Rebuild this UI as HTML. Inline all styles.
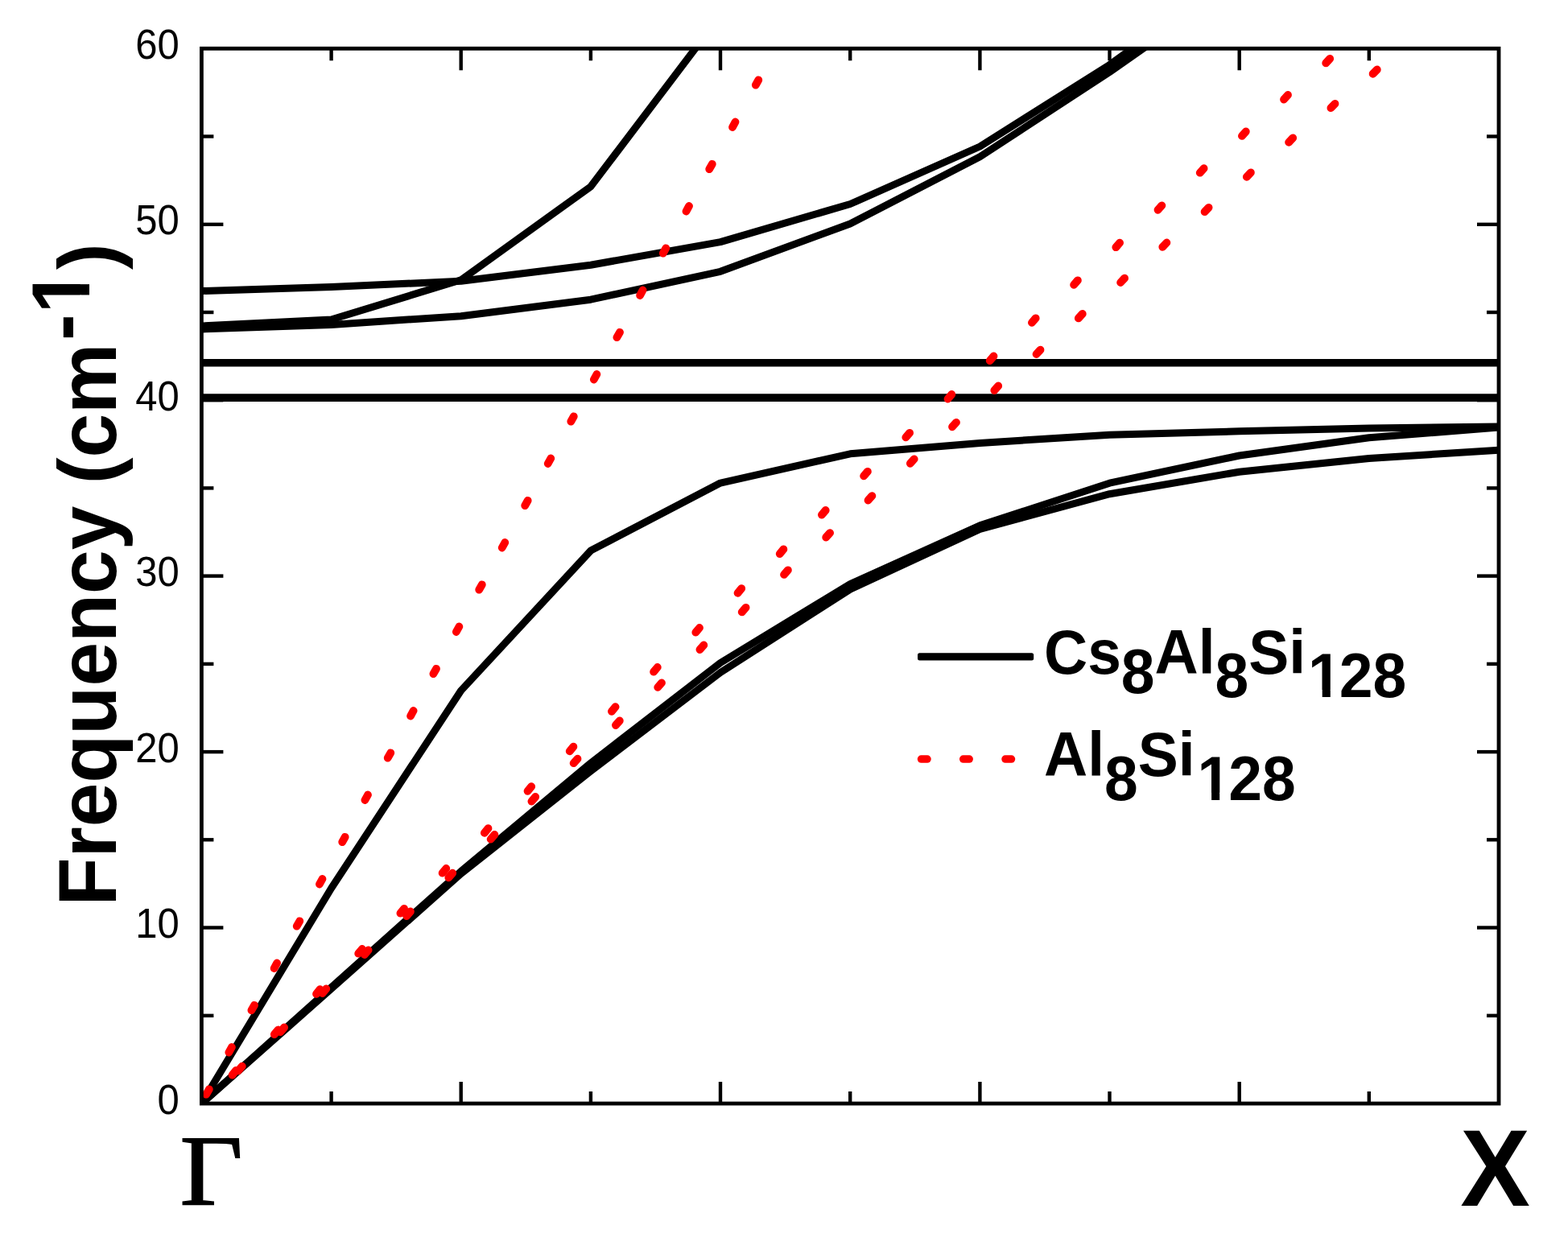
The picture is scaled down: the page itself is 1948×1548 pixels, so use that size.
<!DOCTYPE html>
<html lang="en"><head><meta charset="utf-8"><title>Phonon dispersion</title>
<style>html,body{margin:0;padding:0;background:#fff}body{width:1948px;height:1548px;overflow:hidden}svg{display:block}text{font-family:"Liberation Sans",sans-serif;fill:#000}.b{font-weight:bold}.g{font-family:"Liberation Serif",serif}</style>
</head><body>
<svg width="1948" height="1548" viewBox="0 0 1948 1548">
<rect x="0" y="0" width="1948" height="1548" fill="#fff"/>
<defs><clipPath id="cp"><rect x="250.40" y="60.30" width="1611.60" height="1310.70"/></clipPath></defs>
<g clip-path="url(#cp)" fill="none" stroke="#000" stroke-width="9.00" stroke-linejoin="round" stroke-linecap="butt">
<polyline points="250.4,361.5 411.6,356.6 572.7,349.2 733.9,329.2 895.0,300.6 1056.2,253.5 1217.4,182.0 1378.5,80.5 1539.7,-35.6"/>
<polyline points="250.4,408.9 411.6,403.4 572.7,392.7 733.9,372.2 895.0,337.3 1056.2,278.0 1217.4,194.8 1378.5,89.5 1539.7,-23.3"/>
<polyline points="250.4,405.0 411.6,397.0 572.7,347.8 733.9,231.8 895.0,19.1"/>
<polyline stroke-width="9.6" points="250.4,450.7 411.6,450.7 572.7,450.7 733.9,450.7 895.0,450.7 1056.2,450.7 1217.4,450.7 1378.5,450.7 1539.7,450.7 1700.8,450.7 1862.0,450.7"/>
<polyline stroke-width="9.6" points="250.4,494.1 411.6,494.1 572.7,494.1 733.9,494.1 895.0,494.1 1056.2,494.1 1217.4,494.1 1378.5,494.1 1539.7,494.1 1700.8,494.1 1862.0,494.1"/>
<polyline points="250.4,1371.0 411.6,1103.5 572.7,858.0 733.9,684.1 895.0,600.1 1056.2,563.8 1217.4,550.4 1378.5,540.2 1539.7,535.8 1700.8,532.1 1862.0,530.0"/>
<polyline points="250.4,1371.0 411.6,1226.5 572.7,1082.5 733.9,948.0 895.0,823.5 1056.2,725.5 1217.4,652.8 1378.5,600.2 1539.7,566.0 1700.8,543.8 1862.0,531.0"/>
<polyline points="250.4,1371.0 411.6,1228.5 572.7,1085.4 733.9,958.0 895.0,835.5 1056.2,732.1 1217.4,657.4 1378.5,613.7 1539.7,586.2 1700.8,569.5 1862.0,559.2"/>
</g>
<g stroke="#f00" stroke-width="9.8" stroke-linecap="round" fill="none">
<line x1="256.2" y1="1359.7" x2="259.8" y2="1353.3"/>
<line x1="284.3" y1="1307.5" x2="287.9" y2="1301.0"/>
<line x1="312.4" y1="1255.2" x2="316.0" y2="1248.8"/>
<line x1="340.6" y1="1203.0" x2="344.1" y2="1196.5"/>
<line x1="368.7" y1="1150.7" x2="372.3" y2="1144.3"/>
<line x1="396.9" y1="1098.5" x2="400.5" y2="1092.0"/>
<line x1="425.2" y1="1046.2" x2="428.7" y2="1039.8"/>
<line x1="453.4" y1="994.0" x2="457.0" y2="987.5"/>
<line x1="481.7" y1="941.7" x2="485.3" y2="935.3"/>
<line x1="510.1" y1="889.5" x2="513.6" y2="883.0"/>
<line x1="538.4" y1="837.2" x2="542.0" y2="830.8"/>
<line x1="566.8" y1="785.0" x2="570.4" y2="778.5"/>
<line x1="595.2" y1="732.7" x2="598.8" y2="726.3"/>
<line x1="623.7" y1="680.5" x2="627.3" y2="674.0"/>
<line x1="652.2" y1="628.2" x2="655.7" y2="621.8"/>
<line x1="680.7" y1="576.0" x2="684.3" y2="569.5"/>
<line x1="709.3" y1="523.7" x2="712.8" y2="517.3"/>
<line x1="737.8" y1="471.5" x2="741.4" y2="465.0"/>
<line x1="766.4" y1="419.2" x2="770.0" y2="412.8"/>
<line x1="795.1" y1="367.0" x2="798.6" y2="360.5"/>
<line x1="823.8" y1="314.7" x2="827.3" y2="308.3"/>
<line x1="852.5" y1="262.5" x2="856.0" y2="256.0"/>
<line x1="881.2" y1="210.2" x2="884.8" y2="203.8"/>
<line x1="910.0" y1="158.0" x2="913.5" y2="151.5"/>
<line x1="938.8" y1="105.7" x2="942.3" y2="99.3"/>
<line x1="288.6" y1="1335.6" x2="293.2" y2="1329.8"/>
<line x1="340.8" y1="1285.2" x2="345.4" y2="1279.5"/>
<line x1="393.0" y1="1234.9" x2="397.6" y2="1229.2"/>
<line x1="445.2" y1="1184.7" x2="449.9" y2="1179.0"/>
<line x1="497.4" y1="1134.7" x2="502.1" y2="1128.9"/>
<line x1="549.6" y1="1084.7" x2="554.3" y2="1079.0"/>
<line x1="601.8" y1="1034.8" x2="606.5" y2="1029.1"/>
<line x1="655.5" y1="982.9" x2="660.2" y2="977.2"/>
<line x1="707.7" y1="933.3" x2="712.4" y2="927.6"/>
<line x1="759.9" y1="883.9" x2="764.6" y2="878.2"/>
<line x1="812.1" y1="834.7" x2="816.8" y2="829.0"/>
<line x1="864.3" y1="785.7" x2="869.0" y2="780.0"/>
<line x1="916.5" y1="736.8" x2="921.2" y2="731.1"/>
<line x1="968.7" y1="688.1" x2="973.4" y2="682.4"/>
<line x1="1020.9" y1="639.7" x2="1025.7" y2="634.0"/>
<line x1="1073.1" y1="591.4" x2="1077.9" y2="585.8"/>
<line x1="1125.3" y1="543.4" x2="1130.1" y2="537.8"/>
<line x1="1177.5" y1="495.6" x2="1182.3" y2="490.0"/>
<line x1="1229.7" y1="448.1" x2="1234.5" y2="442.5"/>
<line x1="1281.9" y1="400.9" x2="1286.7" y2="395.3"/>
<line x1="1334.1" y1="353.9" x2="1338.9" y2="348.3"/>
<line x1="1386.3" y1="307.2" x2="1391.1" y2="301.6"/>
<line x1="1438.5" y1="260.8" x2="1443.4" y2="255.3"/>
<line x1="1490.7" y1="214.7" x2="1495.6" y2="209.2"/>
<line x1="1542.9" y1="168.9" x2="1547.8" y2="163.4"/>
<line x1="1595.0" y1="123.5" x2="1600.0" y2="118.0"/>
<line x1="1647.2" y1="78.4" x2="1652.2" y2="72.9"/>
<line x1="296.0" y1="1330.4" x2="300.8" y2="1324.7"/>
<line x1="348.3" y1="1282.2" x2="353.1" y2="1276.5"/>
<line x1="400.5" y1="1234.1" x2="405.3" y2="1228.4"/>
<line x1="452.8" y1="1186.1" x2="457.6" y2="1180.4"/>
<line x1="505.1" y1="1138.1" x2="509.9" y2="1132.5"/>
<line x1="557.3" y1="1090.3" x2="562.2" y2="1084.7"/>
<line x1="609.6" y1="1042.6" x2="614.4" y2="1037.0"/>
<line x1="660.4" y1="995.7" x2="665.2" y2="990.0"/>
<line x1="712.6" y1="948.2" x2="717.5" y2="942.7"/>
<line x1="764.9" y1="901.0" x2="769.8" y2="895.4"/>
<line x1="817.2" y1="853.9" x2="822.0" y2="848.4"/>
<line x1="869.4" y1="807.0" x2="874.3" y2="801.5"/>
<line x1="921.7" y1="760.4" x2="926.6" y2="754.8"/>
<line x1="974.0" y1="713.9" x2="978.9" y2="708.3"/>
<line x1="1026.2" y1="667.6" x2="1031.1" y2="662.1"/>
<line x1="1078.5" y1="621.6" x2="1083.4" y2="616.1"/>
<line x1="1130.8" y1="575.8" x2="1135.7" y2="570.3"/>
<line x1="1183.0" y1="530.3" x2="1188.0" y2="524.8"/>
<line x1="1235.3" y1="485.0" x2="1240.2" y2="479.5"/>
<line x1="1287.5" y1="440.0" x2="1292.5" y2="434.6"/>
<line x1="1339.8" y1="395.4" x2="1344.8" y2="389.9"/>
<line x1="1392.1" y1="351.0" x2="1397.1" y2="345.6"/>
<line x1="1444.3" y1="306.9" x2="1449.4" y2="301.5"/>
<line x1="1496.6" y1="263.2" x2="1501.6" y2="257.8"/>
<line x1="1548.8" y1="219.8" x2="1553.9" y2="214.4"/>
<line x1="1601.1" y1="176.8" x2="1606.2" y2="171.4"/>
<line x1="1653.4" y1="134.1" x2="1658.5" y2="128.8"/>
<line x1="1705.6" y1="91.8" x2="1710.8" y2="86.5"/>
</g>
<rect x="250.40" y="60.30" width="1611.60" height="1310.70" fill="none" stroke="#000" stroke-width="4.80"/>
<g stroke="#000" stroke-width="4.40" fill="none">
<line x1="411.6" y1="1371.0" x2="411.6" y2="1356.0"/>
<line x1="411.6" y1="60.3" x2="411.6" y2="75.3"/>
<line x1="572.7" y1="1371.0" x2="572.7" y2="1344.0"/>
<line x1="572.7" y1="60.3" x2="572.7" y2="87.3"/>
<line x1="733.9" y1="1371.0" x2="733.9" y2="1356.0"/>
<line x1="733.9" y1="60.3" x2="733.9" y2="75.3"/>
<line x1="895.0" y1="1371.0" x2="895.0" y2="1344.0"/>
<line x1="895.0" y1="60.3" x2="895.0" y2="87.3"/>
<line x1="1056.2" y1="1371.0" x2="1056.2" y2="1356.0"/>
<line x1="1056.2" y1="60.3" x2="1056.2" y2="75.3"/>
<line x1="1217.4" y1="1371.0" x2="1217.4" y2="1344.0"/>
<line x1="1217.4" y1="60.3" x2="1217.4" y2="87.3"/>
<line x1="1378.5" y1="1371.0" x2="1378.5" y2="1356.0"/>
<line x1="1378.5" y1="60.3" x2="1378.5" y2="75.3"/>
<line x1="1539.7" y1="1371.0" x2="1539.7" y2="1344.0"/>
<line x1="1539.7" y1="60.3" x2="1539.7" y2="87.3"/>
<line x1="1700.8" y1="1371.0" x2="1700.8" y2="1356.0"/>
<line x1="1700.8" y1="60.3" x2="1700.8" y2="75.3"/>
<line x1="250.4" y1="1261.8" x2="265.4" y2="1261.8"/>
<line x1="1862.0" y1="1261.8" x2="1847.0" y2="1261.8"/>
<line x1="250.4" y1="1152.5" x2="277.4" y2="1152.5"/>
<line x1="1862.0" y1="1152.5" x2="1835.0" y2="1152.5"/>
<line x1="250.4" y1="1043.3" x2="265.4" y2="1043.3"/>
<line x1="1862.0" y1="1043.3" x2="1847.0" y2="1043.3"/>
<line x1="250.4" y1="934.1" x2="277.4" y2="934.1"/>
<line x1="1862.0" y1="934.1" x2="1835.0" y2="934.1"/>
<line x1="250.4" y1="824.9" x2="265.4" y2="824.9"/>
<line x1="1862.0" y1="824.9" x2="1847.0" y2="824.9"/>
<line x1="250.4" y1="715.6" x2="277.4" y2="715.6"/>
<line x1="1862.0" y1="715.6" x2="1835.0" y2="715.6"/>
<line x1="250.4" y1="606.4" x2="265.4" y2="606.4"/>
<line x1="1862.0" y1="606.4" x2="1847.0" y2="606.4"/>
<line x1="250.4" y1="497.2" x2="277.4" y2="497.2"/>
<line x1="1862.0" y1="497.2" x2="1835.0" y2="497.2"/>
<line x1="250.4" y1="388.0" x2="265.4" y2="388.0"/>
<line x1="1862.0" y1="388.0" x2="1847.0" y2="388.0"/>
<line x1="250.4" y1="278.8" x2="277.4" y2="278.8"/>
<line x1="1862.0" y1="278.8" x2="1835.0" y2="278.8"/>
<line x1="250.4" y1="169.5" x2="265.4" y2="169.5"/>
<line x1="1862.0" y1="169.5" x2="1847.0" y2="169.5"/>
</g>
<g font-size="49" text-anchor="end">
<text transform="translate(222.7,1383.7) scale(1,1.05)">0</text>
<text transform="translate(222.7,1165.2) scale(1,1.05)">10</text>
<text transform="translate(222.7,946.8) scale(1,1.05)">20</text>
<text transform="translate(222.7,728.4) scale(1,1.05)">30</text>
<text transform="translate(222.7,509.9) scale(1,1.05)">40</text>
<text transform="translate(222.7,291.4) scale(1,1.05)">50</text>
<text transform="translate(222.7,73.0) scale(1,1.05)">60</text>
</g>
<g class="b" font-size="98.3" transform="translate(144.4,1125.6) rotate(-90) scale(1,1.035)">
<text x="0" y="0">Frequency (cm<tspan dy="-32" dx="3.5">-</tspan><tspan dx="0.8">1</tspan><tspan dy="32" dx="-0.3">)</tspan></text>
<rect x="740.82" y="-43.24" width="18.35" height="12.44" fill="#fff"/><rect x="772.46" y="-43.24" width="17.10" height="12.44" fill="#fff"/>
</g>
<text class="g" font-size="124" stroke="#000" stroke-width="1.6" transform="translate(223.6,1497.0) scale(1.09,1.0)">Γ</text>
<text class="b" font-size="128" transform="translate(1814.2,1498) scale(1.015,1.055)">X</text>
<rect x="1140" y="811.2" width="144.2" height="9.2" rx="2.5" fill="#000"/>
<g stroke="#f00" stroke-width="9.5" stroke-linecap="round">
<line x1="1144.5" y1="943.1" x2="1152.0" y2="943.1"/>
<line x1="1196.7" y1="943.1" x2="1204.2" y2="943.1"/>
<line x1="1249.0" y1="943.1" x2="1256.5" y2="943.1"/>
</g>
<g class="b" font-size="75" transform="translate(1297,836.5) scale(1,1.040)">
<text x="0" y="0">Cs<tspan dy="23.1">8</tspan><tspan dy="-23.1">Al</tspan><tspan dy="28.8">8</tspan><tspan dy="-28.8">Si</tspan><tspan dy="28.8" dx="3">1</tspan><tspan dx="-3">28</tspan></text>
<rect x="331.33" y="19.99" width="14.38" height="10.06" fill="#fff"/><rect x="355.80" y="19.99" width="13.43" height="10.06" fill="#fff"/>
</g>
<g class="b" font-size="75" transform="translate(1297,964) scale(1,1.040)">
<text x="0" y="0">Al<tspan dy="28.8">8</tspan><tspan dy="-28.8">Si</tspan><tspan dy="28.8" dx="3">1</tspan><tspan dx="-3">28</tspan></text>
<rect x="193.72" y="19.99" width="14.38" height="10.06" fill="#fff"/><rect x="218.19" y="19.99" width="13.43" height="10.06" fill="#fff"/>
</g>
</svg>
</body></html>
